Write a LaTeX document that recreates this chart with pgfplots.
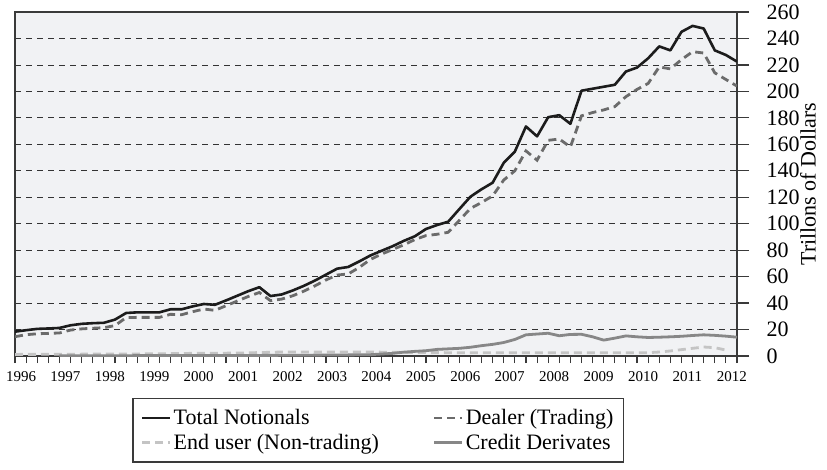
\documentclass[border=0pt]{standalone}
\usepackage{fontspec}
\setmainfont{Liberation Serif}
\usepackage{pgfplots}
\pgfplotsset{compat=1.18}
\usepackage{pgfplotstable}
\definecolor{bg}{HTML}{F1F2F4}
\definecolor{ctotal}{HTML}{1C1C1C}
\definecolor{cdealer}{HTML}{6B6B6B}
\definecolor{cend}{HTML}{C4C4C4}
\definecolor{ccredit}{HTML}{878787}
\definecolor{cframe}{HTML}{3A3A3A}

\pgfplotstableread{
i total dealer
0 18.4 14.6
1 19.5 16.1
2 20.5 16.8
3 20.8 17.1
4 21.2 17.4
5 23.2 19.6
6 24.3 20.5
7 24.8 21.0
8 25.1 21.4
9 27.5 23.0
10 32.5 29.0
11 33.0 29.2
12 33.0 29.2
13 33.0 29.2
14 35.3 31.5
15 35.3 31.2
16 37.5 33.5
17 39.3 35.5
18 38.7 34.5
19 42.0 38.0
20 45.5 41.5
21 49.0 45.0
22 52.0 48.0
23 45.3 41.8
24 46.5 43.0
25 49.5 45.5
26 53.0 49.0
27 57.0 53.0
28 61.5 57.5
29 66.0 61.2
30 67.3 62.0
31 71.5 67.0
32 76.0 73.0
33 79.5 77.0
34 83.0 80.5
35 87.0 84.0
36 90.5 88.0
37 96.0 91.0
38 99.0 92.0
39 101.5 93.5
40 111.0 102.5
41 120.4 111.5
42 126.0 116.0
43 131.0 121.0
44 146.0 133.0
45 154.5 140.0
46 173.5 155.0
47 166.0 148.0
48 180.5 163.0
49 182.0 164.0
50 175.5 158.0
51 200.5 181.5
52 202.0 184.0
53 203.5 186.0
54 205.0 188.5
55 215.0 196.0
56 218.0 201.5
57 225.0 206.0
58 234.0 218.5
59 231.0 217.0
60 245.0 224.0
61 249.5 230.0
62 247.5 229.0
63 231.0 214.0
64 227.5 209.0
65 222.5 204.0
}\maintable

\pgfplotstableread{
i enduser
0 1.2
4 1.3
8 1.5
12 1.6
16 2.0
20 2.2
24 3.0
28 3.0
32 3.0
36 2.6
40 2.5
44 2.5
48 2.4
52 2.4
56 2.4
57 2.5
58 3.0
59 3.8
60 4.8
61 5.8
62 6.8
63 6.3
64 4.5
}\endtable

\pgfplotstableread{
i credit
4 0.1
8 0.2
12 0.3
16 0.3
20 0.4
24 0.5
28 0.7
31 0.9
32 1.0
33 1.5
34 2.0
35 2.9
36 3.5
37 4.0
38 5.0
39 5.4
40 5.8
41 6.6
42 7.8
43 8.8
44 10.2
45 12.5
46 16.0
47 16.6
48 17.2
49 15.3
50 16.3
51 16.4
52 14.5
53 12.0
54 13.5
55 15.2
56 14.5
57 14.0
58 14.2
59 14.5
60 14.9
61 15.5
62 16.0
63 15.6
64 15.0
65 14.2
}\credittable

\begin{document}
\begin{tikzpicture}[x=1pt,y=1pt]
\path[use as bounding box] (0,0) rectangle (827,469);
\begin{axis}[
  at={(15pt,113pt)}, anchor=south west,
  width=722pt, height=344pt, scale only axis,
  xmin=0, xmax=65, ymin=0, ymax=260,
  axis background/.style={fill=bg},
  axis line style={draw=cframe, line width=1.3pt},
  xtick pos=bottom, ytick pos=right, yticklabel pos=right,
  tick align=outside,
  xtick={0,4,...,64},
  xticklabels={1996,1997,1998,1999,2000,2001,2002,2003,2004,2005,2006,2007,2008,2009,2010,2011,2012},
  minor xtick={0,...,65},
  major x tick style={draw=none},
  major y tick style={draw=cframe, line width=1.2pt},
  minor tick length=7pt,
  major tick length=12pt,
  tick style={draw=cframe, line width=1.1pt},
  ytick={0,20,...,260},
  ymajorgrids,
  major grid style={draw=black!80, line width=0.8pt, dash pattern=on 6pt off 5pt},
  /pgf/number format/assume math mode=true,
  xticklabel style={font=\fontsize{15}{18}\selectfont, xshift=6pt},
  yticklabel style={font=\fontsize{22}{26}\selectfont, anchor=west, xshift=14pt},
  ylabel={Trillons of Dollars},
  ylabel style={at={(axis description cs:1,0.5)}, anchor=center, yshift=-71pt, font=\fontsize{22}{26}\selectfont},
  legend columns=2,
  legend cell align=left,
  legend image code/.code={\draw[#1] (0pt,0pt) -- (28pt,0pt);},
  legend style={at={(axis description cs:0.503,-0.122)}, anchor=north,
    draw=cframe, line width=1.2pt, fill=white,
    font=\fontsize{22}{25}\selectfont, inner xsep=8pt, inner ysep=9pt,
    row sep=4pt,
    /tikz/every even column/.append style={column sep=52pt}},
]
\addplot[draw=ctotal, line width=2.6pt, line join=round] table[x=i, y=total] {\maintable};
\addlegendentry{Total Notionals}
\addplot[draw=cdealer, line width=2.8pt, dash pattern=on 8pt off 5pt] table[x=i, y=dealer] {\maintable};
\addlegendentry{Dealer (Trading)}
\addplot[draw=cend, line width=2.8pt, dash pattern=on 8pt off 5pt] table[x=i, y=enduser] {\endtable};
\addlegendentry{End user (Non-trading)}
\addplot[draw=ccredit, line width=2.8pt, line join=round] table[x=i, y=credit] {\credittable};
\addlegendentry{Credit Derivates}
\end{axis}
\end{tikzpicture}
\end{document}
